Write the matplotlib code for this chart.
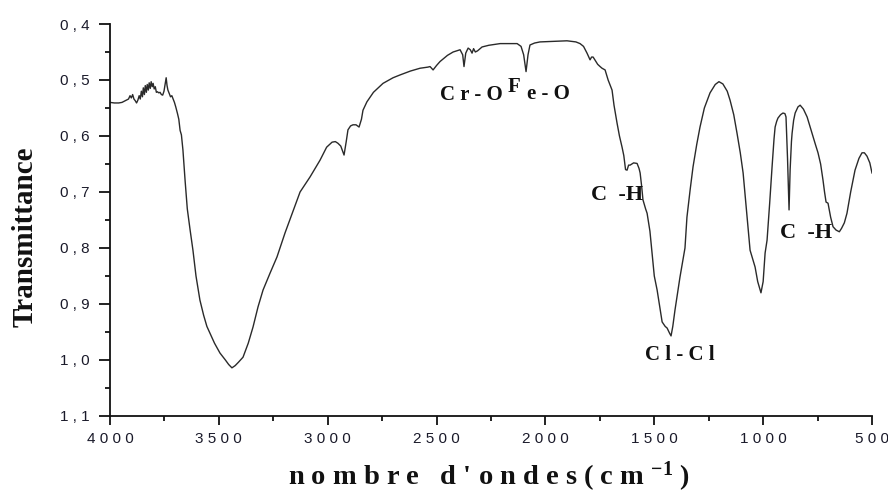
import matplotlib
matplotlib.use("Agg")
import matplotlib.pyplot as plt
from matplotlib.ticker import MultipleLocator, FixedLocator

# FTIR spectrum: wavenumber (cm-1) and transmittance
wavenumber = [
    4000, 3980, 3960, 3945, 3935, 3925, 3915, 3908, 3902, 3896, 3890, 3884,
    3878, 3872, 3866, 3861, 3856, 3851, 3847, 3842, 3838, 3833, 3829, 3824,
    3820, 3815, 3811, 3806, 3802, 3797, 3792, 3787, 3782, 3776, 3770, 3764,
    3758, 3752, 3746, 3742, 3738, 3734, 3728, 3722, 3716, 3710, 3704, 3698,
    3690, 3684, 3678, 3672, 3665, 3655, 3645, 3632, 3619, 3605, 3587, 3570,
    3555, 3541, 3520, 3495, 3470, 3455, 3440, 3425, 3410, 3389, 3365, 3343,
    3320, 3297, 3265, 3233, 3196, 3160, 3127, 3081, 3035, 3005, 2980, 2965,
    2953, 2940, 2925, 2915, 2907, 2895, 2884, 2870, 2856, 2845, 2838, 2820,
    2790, 2746, 2700, 2668, 2620, 2576, 2540, 2530, 2516, 2500, 2484, 2450,
    2424, 2400, 2392, 2380, 2374, 2366, 2355, 2345, 2337, 2330, 2322, 2312,
    2300, 2291, 2260, 2208, 2170, 2130, 2112, 2100, 2089, 2080, 2071, 2050,
    2025, 1960, 1901, 1860, 1841, 1825, 1809, 1800, 1795, 1788, 1781, 1770,
    1760, 1749, 1740, 1726, 1718, 1712, 1700, 1694, 1685, 1671, 1660, 1648,
    1640, 1632, 1625, 1618, 1611, 1595, 1579, 1570, 1565, 1558, 1552, 1540,
    1533, 1520, 1510, 1500, 1487, 1475, 1464, 1450, 1441, 1430, 1423, 1415,
    1405, 1395, 1382, 1370, 1359, 1350, 1335, 1322, 1305, 1290, 1270, 1244,
    1220, 1203, 1185, 1165, 1152, 1135, 1120, 1105, 1092, 1075, 1060, 1048,
    1037, 1025, 1010, 1000, 991, 982, 970, 959, 950, 945, 938, 932,
    920, 909, 900, 895, 888, 881, 876, 870, 867, 860, 853, 840,
    830, 815, 798, 785, 771, 760, 748, 736, 725, 718, 711, 702,
    690, 679, 665, 650, 640, 627, 615, 598, 578, 560, 546, 535,
    523, 510, 500,
]
transmittance = [
    0.540, 0.541, 0.541, 0.540, 0.538, 0.536, 0.534, 0.528, 0.532, 0.526, 0.534, 0.537,
    0.541, 0.536, 0.528, 0.534, 0.520, 0.530, 0.514, 0.526, 0.510, 0.522, 0.508, 0.518,
    0.505, 0.515, 0.503, 0.512, 0.506, 0.516, 0.512, 0.522, 0.521, 0.523, 0.522, 0.526,
    0.527, 0.520, 0.505, 0.496, 0.510, 0.518, 0.524, 0.530, 0.528, 0.534, 0.540, 0.548,
    0.560, 0.570, 0.590, 0.598, 0.625, 0.680, 0.730, 0.768, 0.804, 0.850, 0.893, 0.920,
    0.940, 0.952, 0.970, 0.9875, 1.000, 1.008, 1.014, 1.010, 1.004, 0.995, 0.970, 0.941,
    0.905, 0.875, 0.845, 0.816, 0.773, 0.735, 0.700, 0.673, 0.643, 0.620, 0.611, 0.610,
    0.613, 0.618, 0.634, 0.610, 0.589, 0.582, 0.580, 0.580, 0.584, 0.570, 0.554, 0.539,
    0.522, 0.506, 0.496, 0.491, 0.484, 0.479, 0.477, 0.476, 0.482, 0.474, 0.467, 0.456,
    0.450, 0.447, 0.446, 0.455, 0.476, 0.452, 0.443, 0.446, 0.452, 0.444, 0.450, 0.448,
    0.444, 0.441, 0.438, 0.435, 0.435, 0.435, 0.440, 0.455, 0.485, 0.455, 0.4375, 0.434,
    0.432, 0.431, 0.430, 0.432, 0.435, 0.440, 0.452, 0.460, 0.464, 0.459, 0.459, 0.466,
    0.472, 0.476, 0.479, 0.482, 0.492, 0.500, 0.512, 0.518, 0.545, 0.577, 0.600, 0.620,
    0.635, 0.660, 0.661, 0.652, 0.652, 0.648, 0.649, 0.658, 0.666, 0.690, 0.714, 0.730,
    0.738, 0.770, 0.810, 0.850, 0.875, 0.905, 0.932, 0.940, 0.943, 0.952, 0.957, 0.940,
    0.911, 0.885, 0.852, 0.825, 0.800, 0.745, 0.695, 0.655, 0.615, 0.584, 0.550, 0.523,
    0.508, 0.503, 0.507, 0.520, 0.536, 0.562, 0.595, 0.630, 0.666, 0.740, 0.804, 0.820,
    0.834, 0.860, 0.880, 0.860, 0.809, 0.786, 0.720, 0.655, 0.605, 0.584, 0.574, 0.568,
    0.562, 0.559, 0.560, 0.566, 0.640, 0.732, 0.660, 0.610, 0.595, 0.572, 0.559, 0.548,
    0.545, 0.552, 0.566, 0.583, 0.602, 0.615, 0.630, 0.650, 0.679, 0.700, 0.718, 0.720,
    0.745, 0.762, 0.768, 0.771, 0.765, 0.755, 0.738, 0.700, 0.661, 0.640, 0.630, 0.630,
    0.636, 0.648, 0.666,
]

x_ticks = [4000, 3500, 3000, 2500, 2000, 1500, 1000, 500]
x_ticklabels = ["4000", "3500", "3000", "2500", "2000", "1500", "1000", "500"]
y_ticks = [0.4, 0.5, 0.6, 0.7, 0.8, 0.9, 1.0, 1.1]
y_ticklabels = ["0,4", "0,5", "0,6", "0,7", "0,8", "0,9", "1,0", "1,1"]

# band assignments: (label, wavenumber, transmittance at baseline)
band_labels = ["C r - O", "C  -H", "C l - C l", "C  -H"]
band_x = [2342, 1671, 1382, 803]
band_y = [0.536, 0.714, 1.000, 0.782]
band_size = [15, 16, 15, 16]


def spaced(s):
    return " ".join(s)


serif = ["Liberation Serif", "DejaVu Serif"]
sans = ["Liberation Sans", "DejaVu Sans"]
plt.rcParams["mathtext.default"] = "regular"

fig = plt.figure(figsize=(8.88, 4.93), dpi=100)
ax = fig.add_axes([110 / 888, 1 - 416 / 493, 762 / 888, 392 / 493])

ax.plot(wavenumber, transmittance, color="#2a2a2a", lw=1.0)

ax.set_xlim(4000, 500)
ax.set_ylim(1.1, 0.4)

for side in ("top", "right"):
    ax.spines[side].set_visible(False)
for side in ("left", "bottom"):
    ax.spines[side].set_linewidth(1.3)
    ax.spines[side].set_color("#111111")

ax.xaxis.set_major_locator(FixedLocator(x_ticks))
ax.xaxis.set_minor_locator(MultipleLocator(250))
ax.yaxis.set_major_locator(FixedLocator(y_ticks))
ax.yaxis.set_minor_locator(MultipleLocator(0.05))
ax.set_xticklabels([spaced(t) for t in x_ticklabels])
ax.set_yticklabels([spaced(t) for t in y_ticklabels])

ax.tick_params(axis="x", which="major", direction="out", length=6.5, width=1.3,
               pad=5, colors="#111111", labelsize=11)
ax.tick_params(axis="x", which="minor", direction="out", length=3.5, width=1.3,
               colors="#111111")
ax.tick_params(axis="y", which="major", direction="out", length=8, width=1.3,
               pad=6.5, colors="#111111", labelsize=11)
ax.tick_params(axis="y", which="minor", direction="out", length=3.5, width=1.3,
               colors="#111111")
for lab in ax.get_xticklabels() + ax.get_yticklabels():
    lab.set_family(sans)
    lab.set_color("#1a1a2a")

for lab, bx, by, fs in zip(band_labels, band_x, band_y, band_size):
    ax.text(bx, by, lab, ha="center", va="baseline", family=serif,
            fontweight="bold", fontsize=fs, color="#111111")
# Fe-O label, with the raised F
ax.text(2172, 0.521, "F", ha="left", va="baseline", family=serif,
        fontweight="bold", fontsize=15, color="#111111")
ax.text(2085, 0.534, "e - O", ha="left", va="baseline", family=serif,
        fontweight="bold", fontsize=15, color="#111111")

fig.text(489 / 888, 1 - 485 / 493,
         "n o m b r e   d ' o n d e s ( c m $^{-1}$ )",
         ha="center", va="baseline", family=serif, fontweight="bold",
         fontsize=20.5, color="#111111")
fig.text(25 / 888, 1 - 237 / 493, "Transmittance", rotation=90,
         ha="center", va="center", family=serif, fontweight="bold",
         fontsize=21, color="#111111")

fig.savefig("out.png", dpi=100, facecolor="white")
